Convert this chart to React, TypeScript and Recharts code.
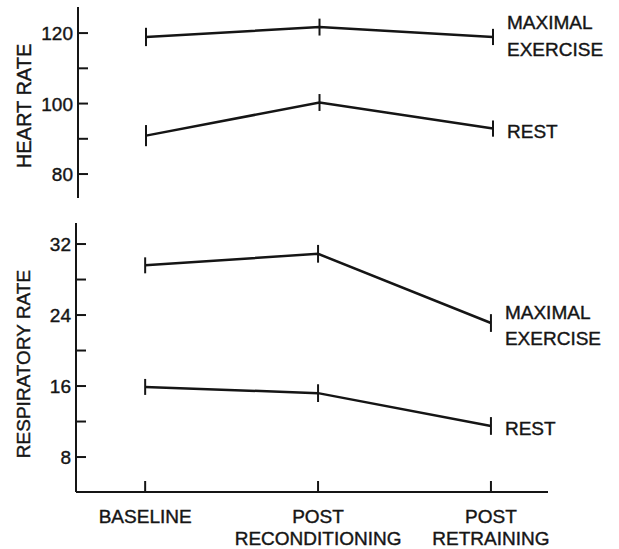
import { LineChart, Line, XAxis, YAxis, ErrorBar, LabelList } from "recharts";

// stage positions on the x axis
const stageX = [0, 1, 2];
const stageLabels = [["BASELINE"], ["POST", "RECONDITIONING"], ["POST", "RETRAINING"]];

// heart rate (beats/min), mean and error bar half-length
const hrMaximal = [118.9, 121.7, 118.9];
const hrMaximalErr = [2.6, 2.4, 2.3];
const hrRest = [90.9, 100.3, 92.9];
const hrRestErr = [3.0, 2.4, 2.3];

// respiratory rate (breaths/min)
const rrMaximal = [29.6, 30.9, 23.1];
const rrMaximalErr = [0.9, 1.0, 1.0];
const rrRest = [15.9, 15.2, 11.5];
const rrRestErr = [0.9, 1.0, 1.0];

const hrTicks = [80, 90, 100, 110, 120];
const rrTicks = [8, 12, 16, 20, 24, 28, 32];

const ink = "#151515";
const font = "'Liberation Sans', Arial, sans-serif";
const textStyle = { fontSize: 19, fill: ink, fontFamily: font, stroke: ink, strokeWidth: 0.4 };

const hrData = stageX.map((x, i) => ({
  x,
  max: hrMaximal[i],
  maxErr: hrMaximalErr[i],
  rest: hrRest[i],
  restErr: hrRestErr[i],
}));

const rrData = stageX.map((x, i) => ({
  x,
  max: rrMaximal[i],
  maxErr: rrMaximalErr[i],
  rest: rrRest[i],
  restErr: rrRestErr[i],
}));

// y ticks drawn inward, labels only every other tick
function yTick(step: number) {
  return (props: any) => {
    const { x, y, payload } = props;
    const v = payload.value;
    return (
      <g>
        <line x1={x} x2={x + 10} y1={y} y2={y} stroke={ink} strokeWidth={2} />
        {v % step === 0 && (
          <text x={x - 5} y={y} dy={7} textAnchor="end" {...textStyle}>
            {v}
          </text>
        )}
      </g>
    );
  };
}

function xTick(props: any) {
  const { x, y, payload } = props;
  const lines = stageLabels[payload.value] || [];
  return (
    <g>
      <line x1={x} x2={x} y1={y} y2={y - 11} stroke={ink} strokeWidth={2} />
      {lines.map((t, i) => (
        <text key={i} x={x} y={y + 31 + i * 22} textAnchor="middle" {...textStyle}>
          {t}
        </text>
      ))}
    </g>
  );
}

// series name written at the right end of each line
function endLabel(lines: string[], dys: number[]) {
  return (props: any) => {
    const { x, y, index } = props;
    if (index !== 2) return null;
    return (
      <g>
        {lines.map((t, i) => (
          <text key={i} x={x + 14} y={y + dys[i]} {...textStyle}>
            {t}
          </text>
        ))}
      </g>
    );
  };
}

function yTitle(text: string, x: number, y: number, size: number) {
  return () => (
    <text x={x} y={y} transform={`rotate(-90 ${x} ${y})`} textAnchor="middle" {...textStyle} fontSize={size}>
      {text}
    </text>
  );
}

export default function App() {
  return (
    <div style={{ position: "absolute", left: 0, top: 0, width: 619, height: 549, background: "#fff" }}>
      <div style={{ position: "absolute", left: 0, top: 0 }}>
        <LineChart width={619} height={210} data={hrData} margin={{ top: 7, right: 71, bottom: 12, left: 0 }}>
          <XAxis dataKey="x" type="number" domain={[-0.392, 2.317]} hide />
          <YAxis
            width={78}
            domain={[73.2, 127.4]}
            ticks={hrTicks}
            allowDataOverflow
            axisLine={{ stroke: ink, strokeWidth: 2 }}
            tickLine={false}
            tickSize={0}
            tickMargin={0}
            tick={yTick(20)}
            label={{ content: yTitle("HEART RATE", 31, 106, 20) }}
          />
          <Line type="linear" dataKey="max" stroke={ink} strokeWidth={2.5} dot={false} isAnimationActive={false}>
            <ErrorBar dataKey="maxErr" direction="y" width={0} stroke={ink} strokeWidth={2} />
            <LabelList dataKey="max" content={endLabel(["MAXIMAL", "EXERCISE"], [-8, 19])} />
          </Line>
          <Line type="linear" dataKey="rest" stroke={ink} strokeWidth={2.5} dot={false} isAnimationActive={false}>
            <ErrorBar dataKey="restErr" direction="y" width={0} stroke={ink} strokeWidth={2} />
            <LabelList dataKey="rest" content={endLabel(["REST"], [9])} />
          </Line>
        </LineChart>
      </div>
      <div style={{ position: "absolute", left: 0, top: 210 }}>
        <LineChart width={619} height={339} data={rrData} margin={{ top: 13, right: 71, bottom: 0, left: 0 }}>
          <XAxis
            dataKey="x"
            type="number"
            domain={[-0.4, 2.33]}
            ticks={stageX}
            allowDataOverflow
            height={57}
            axisLine={{ stroke: ink, strokeWidth: 2 }}
            tickLine={false}
            tickSize={0}
            tickMargin={0}
            tick={xTick}
          />
          <YAxis
            width={76}
            domain={[4.06, 34.37]}
            ticks={rrTicks}
            allowDataOverflow
            axisLine={{ stroke: ink, strokeWidth: 2 }}
            tickLine={false}
            tickSize={0}
            tickMargin={0}
            tick={yTick(8)}
            label={{ content: yTitle("RESPIRATORY RATE", 30, 154, 19) }}
          />
          <Line type="linear" dataKey="max" stroke={ink} strokeWidth={2.5} dot={false} isAnimationActive={false}>
            <ErrorBar dataKey="maxErr" direction="y" width={0} stroke={ink} strokeWidth={2} />
            <LabelList dataKey="max" content={endLabel(["MAXIMAL", "EXERCISE"], [-4, 22])} />
          </Line>
          <Line type="linear" dataKey="rest" stroke={ink} strokeWidth={2.5} dot={false} isAnimationActive={false}>
            <ErrorBar dataKey="restErr" direction="y" width={0} stroke={ink} strokeWidth={2} />
            <LabelList dataKey="rest" content={endLabel(["REST"], [9])} />
          </Line>
        </LineChart>
      </div>
    </div>
  );
}
